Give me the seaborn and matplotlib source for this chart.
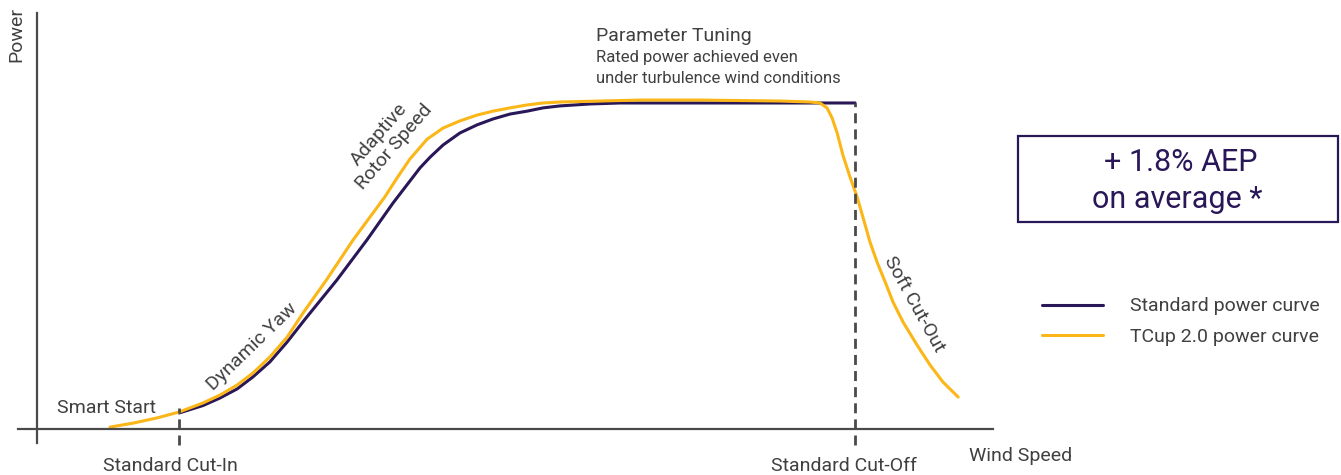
"""Power curve comparison: standard turbine vs TCup 2.0 control."""

import matplotlib

matplotlib.use("Agg")
import matplotlib.pyplot as plt
from matplotlib.patches import Rectangle
import seaborn as sns

W, H = 1341, 475

PURPLE = "#2a1758"
YELLOW = "#fbb617"
TEXT = "#404040"
AXIS = "#4a4a4a"

CUT_IN = 4.0
CUT_OFF = 24.0
RATED = 100.0

# standard power curve (wind speed m/s, power % of rated)
std_speed = [4.0, 4.71, 5.21, 5.72, 6.19, 6.69, 7.2, 7.73, 8.67, 9.56, 10.33,
             11.13, 11.43, 11.81, 12.31, 12.82, 13.29, 13.79, 14.3, 14.77,
             15.27, 16.16, 17.05, 24.0]
std_power = [4.9, 7.2, 9.5, 12.3, 16.0, 20.6, 26.7, 33.7, 45.7, 58.0, 69.3,
             80.1, 83.4, 87.1, 90.8, 93.3, 95.1, 96.6, 97.5, 98.5,
             99.1, 99.7, 100.0, 100.0]

# TCup 2.0 power curve
tcup_speed = [1.96, 2.64, 3.35, 4.0, 4.71, 5.21, 5.72, 6.19, 6.69, 7.2, 7.67,
              8.38, 9.15, 10.09, 10.45, 10.83, 11.34, 11.81, 12.31, 12.82,
              13.29, 13.79, 14.3, 14.77, 15.27, 16.45, 17.64, 19.41, 21.78,
              22.67, 22.96, 23.17, 23.32, 23.47, 23.64, 23.85, 24.06, 24.24,
              24.44, 24.65, 24.89, 25.12, 25.42, 25.83, 26.22, 26.6, 27.05]
tcup_power = [0.6, 1.8, 3.4, 5.2, 8.0, 10.4, 13.5, 17.2, 22.1, 28.2, 35.6,
              46.0, 58.0, 71.2, 77.0, 82.8, 88.9, 92.3, 94.5, 96.3,
              97.5, 98.5, 99.4, 100.0, 100.3, 100.6, 100.9, 100.9, 100.6,
              100.3, 100.0, 98.5, 95.4, 90.8, 84.0, 77.3, 71.2, 64.7,
              57.4, 51.2, 45.1, 39.0, 32.8, 25.8, 19.6, 14.4, 9.8]

sns.set_theme(style="white")
plt.rcParams["font.family"] = ["Roboto", "DejaVu Sans"]


def fig_xy(x, y):
    return x / W, 1 - y / H


fig = plt.figure(figsize=(W / 100, H / 100), dpi=100)
ax = fig.add_axes([18 / W, 32 / H, 975 / W, 430 / H])

sns.lineplot(x=std_speed, y=std_power, ax=ax, color=PURPLE, lw=2.2,
             label="Standard power curve")
sns.lineplot(x=tcup_speed, y=tcup_power, ax=ax, color=YELLOW, lw=2.2,
             label="TCup 2.0 power curve")
for line in ax.lines:
    line.set_solid_joinstyle("round")

dash = (0, (3.6, 2.2))
ax.vlines(CUT_IN, -4.9, 6.4, colors=AXIS, lw=2, linestyles=[dash], clip_on=False)
ax.vlines(CUT_OFF, -4.9, RATED, colors=AXIS, lw=2, linestyles=[dash], clip_on=False)

ax.set_xlim(-0.763, 28.08)
ax.set_ylim(-4.29, 127.6)
ax.set_xticks([])
ax.set_yticks([])
ax.set_xlabel("")
ax.set_ylabel("")
for side in ("top", "right"):
    ax.spines[side].set_visible(False)
ax.spines["left"].set_position(("data", -0.2))
ax.spines["bottom"].set_position(("data", 0))
for side in ("left", "bottom"):
    ax.spines[side].set_color(AXIS)
    ax.spines[side].set_linewidth(1.6)

# labels on the chart
ax.text(0.39, 4.9, "Smart Start", fontsize=14, color=TEXT, ha="left", va="baseline")
ax.text(CUT_IN - 0.24, -12.9, "Standard Cut-In", fontsize=14, color=TEXT,
        ha="center", va="baseline")
ax.text(CUT_OFF - 0.33, -12.9, "Standard Cut-Off", fontsize=14, color=TEXT,
        ha="center", va="baseline")
ax.text(27.37, -9.8, "Wind Speed", fontsize=14, color=TEXT, ha="left", va="baseline")
ax.text(16.34, 119.0, "Parameter Tuning", fontsize=14, color=TEXT, ha="left",
        va="baseline")
ax.text(16.34, 112.6, "Rated power achieved even", fontsize=12, color=TEXT,
        ha="left", va="baseline")
ax.text(16.34, 106.1, "under turbulence wind conditions", fontsize=12, color=TEXT,
        ha="left", va="baseline")
ax.text(6.15, 25.2, "Dynamic Yaw", fontsize=14, color=TEXT, rotation=44,
        ha="center", va="center", rotation_mode="anchor")
ax.text(10.15, 88.5, "Adaptive\nRotor Speed", fontsize=14, color=TEXT, rotation=49,
        ha="center", va="center", multialignment="center", rotation_mode="anchor",
        linespacing=1.15)
ax.text(25.74, 38.3, "Soft Cut-Out", fontsize=14, color=TEXT, rotation=-61,
        ha="center", va="center", rotation_mode="anchor")

fig.text(*fig_xy(16, 35), "Power", fontsize=14, color=TEXT, rotation=90,
         ha="center", va="center")

# AEP box
x0, y0 = fig_xy(1018, 222)
fig.patches.append(Rectangle((x0, y0), 320 / W, 86 / H, transform=fig.transFigure,
                             fill=False, edgecolor=PURPLE, lw=1.6))
fig.text(*fig_xy(1181, 171), "+ 1.8% AEP", fontsize=22, color=PURPLE,
         ha="center", va="baseline")
fig.text(*fig_xy(1177, 208), "on average *", fontsize=22, color=PURPLE,
         ha="center", va="baseline")

handles, labels = ax.get_legend_handles_labels()
ax.get_legend().remove()
fig.legend(handles, labels, loc="center left", bbox_to_anchor=fig_xy(1042, 321.5),
           frameon=False, fontsize=14, handlelength=3.14, handletextpad=1.39,
           labelspacing=0.63, borderpad=0, borderaxespad=0, labelcolor=TEXT)

fig.savefig("out.png", dpi=100)
